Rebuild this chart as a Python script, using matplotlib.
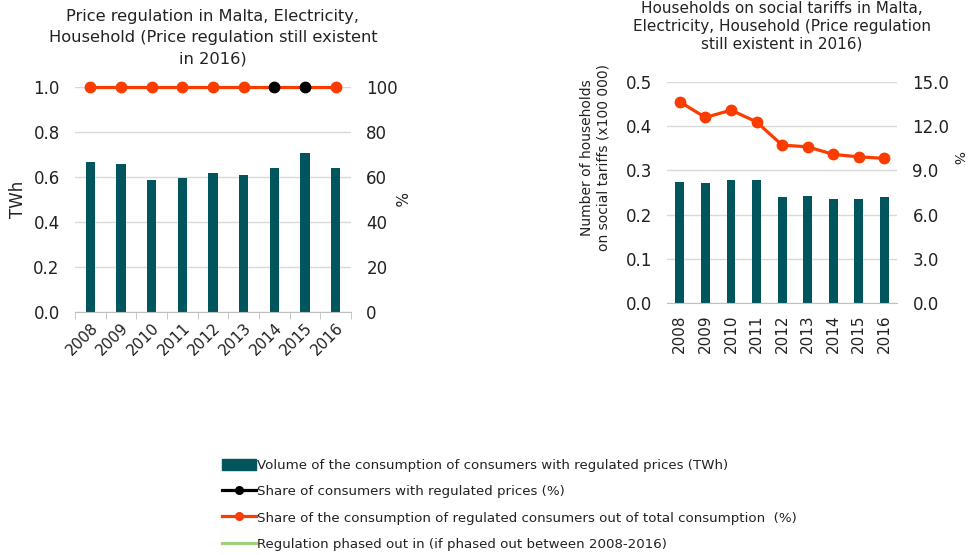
import numpy as np
import matplotlib
matplotlib.use("Agg")
import matplotlib.pyplot as plt
from matplotlib.lines import Line2D
from matplotlib.patches import Patch

# Dados
anos = ["2008", "2009", "2010", "2011", "2012", "2013", "2014", "2015", "2016"]
volume_twh = [0.667, 0.658, 0.587, 0.597, 0.616, 0.609, 0.641, 0.708, 0.641]
share_consumers = [np.nan, np.nan, np.nan, np.nan, np.nan, np.nan, 100, 100, np.nan]
share_consumption = [100, 100, 100, 100, 100, 100, 100, 100, 100]

households = [0.274, 0.272, 0.278, 0.278, 0.239, 0.243, 0.235, 0.235, 0.239]
share_households = [13.66, 12.6, 13.1, 12.3, 10.72, 10.61, 10.09, 9.93, 9.82]

TEAL = "#00565C"
RED = "#FA3C00"
GREEN = "#9BD17F"
GRID = "#D9D9D9"
TXT = "#222222"

plt.rcParams["font.family"] = ["DejaVu Sans"]

fig = plt.figure(figsize=(9.71, 5.55), dpi=100)

x = np.arange(len(anos))

def estilo_eixo(ax, ax2):
    for s in ["top", "left", "right"]:
        ax.spines[s].set_visible(False)
        ax2.spines[s].set_visible(False)
    ax2.spines["bottom"].set_visible(False)
    ax.spines["bottom"].set_color("#BFBFBF")
    ax.yaxis.grid(True, color=GRID, linewidth=1)
    ax.set_axisbelow(True)
    ax.tick_params(axis="y", length=0, labelsize=12, colors=TXT, pad=11)
    ax2.tick_params(axis="y", length=0, labelsize=12, colors=TXT, pad=11)
    ax.set_xlim(-0.5, len(anos) - 0.5)

# Gráfico da esquerda
ax1 = fig.add_axes([0.0772, 0.4378, 0.2843, 0.4054])
ax1.bar(x, volume_twh, width=0.3, color=TEAL, zorder=2)
ax1.set_ylim(0, 1.0)
ax1.set_yticks([0, 0.2, 0.4, 0.6, 0.8, 1.0])
ax1.set_yticklabels(["0.0", "0.2", "0.4", "0.6", "0.8", "1.0"])
ax1.set_ylabel("TWh", fontsize=12, color=TXT)
ax1.yaxis.set_label_coords(-0.175, 0.5)
ax1r = ax1.twinx()
ax1r.set_ylim(0, 100)
ax1r.set_yticks([0, 20, 40, 60, 80, 100])
ax1r.plot(x, share_consumption, color=RED, linewidth=2.3, zorder=3, clip_on=False,
          marker="o", markersize=7.5, markevery=[0, 1, 2, 3, 4, 5, 8])
ax1r.plot(x, share_consumers, color="black", linestyle="none", marker="o",
          markersize=7.5, zorder=4, clip_on=False)
ax1r.set_ylabel("%", fontsize=11, color=TXT, rotation=-90)
ax1r.yaxis.set_label_coords(1.2, 0.5)
estilo_eixo(ax1, ax1r)
ax1.set_xticks(x)
ax1.set_xticks(np.arange(-0.5, len(anos), 1), minor=True)
ax1.set_xticklabels(anos, rotation=45, ha="right", rotation_mode="anchor")
ax1.tick_params(axis="x", which="major", length=0, labelsize=11, colors=TXT, pad=6)
ax1.tick_params(axis="x", which="minor", length=5, color="#BFBFBF")
ax1.set_title("Price regulation in Malta, Electricity,\nHousehold (Price regulation still existent\nin 2016)",
              fontsize=11.7, color=TXT, pad=17, linespacing=1.5)

# Gráfico da direita
ax2 = fig.add_axes([0.687, 0.454, 0.237, 0.398])
ax2.bar(x, households, width=0.35, color=TEAL, zorder=2)
ax2.set_ylim(0, 0.5)
ax2.set_yticks([0, 0.1, 0.2, 0.3, 0.4, 0.5])
ax2.set_yticklabels(["0.0", "0.1", "0.2", "0.3", "0.4", "0.5"])
ax2.set_ylabel("Number of households\non social tariffs (x100 000)", fontsize=10, color=TXT)
ax2.yaxis.set_label_coords(-0.245, 0.66)
ax2r = ax2.twinx()
ax2r.set_ylim(0, 15)
ax2r.set_yticks([0, 3, 6, 9, 12, 15])
ax2r.set_yticklabels(["0.0", "3.0", "6.0", "9.0", "12.0", "15.0"])
ax2r.plot(x, share_households, color=RED, linewidth=2.3, marker="o", markersize=7.5, zorder=3)
ax2r.set_ylabel("%", fontsize=10, color=TXT, rotation=-90)
ax2r.yaxis.set_label_coords(1.29, 0.66)
estilo_eixo(ax2, ax2r)
ax2.set_xticks(x)
ax2.set_xticklabels(anos, rotation=90)
ax2.tick_params(axis="x", length=0, labelsize=11, colors=TXT, pad=8)
ax2.set_title("Households on social tariffs in Malta,\nElectricity, Household (Price regulation\nstill existent in 2016)",
              fontsize=11, color=TXT, pad=24, linespacing=1.25)

# Legenda
handles = [
    Patch(facecolor=TEAL, edgecolor=TEAL),
    Line2D([], [], color="black", linewidth=2.3, marker="o", markersize=5.5),
    Line2D([], [], color=RED, linewidth=2.3, marker="o", markersize=5.5),
    Line2D([], [], color=GREEN, linewidth=2.3),
]
labels = [
    "Volume of the consumption of consumers with regulated prices (TWh)",
    "Share of consumers with regulated prices (%)",
    "Share of the consumption of regulated consumers out of total consumption  (%)",
    "Regulation phased out in (if phased out between 2008-2016)",
]
fig.legend(handles, labels, loc="upper left", bbox_to_anchor=(0.2286, 0.173), frameon=False,
           fontsize=9.6, handlelength=2.55, handleheight=0.9, handletextpad=0.08, labelspacing=0.98,
           borderaxespad=0, borderpad=0, labelcolor=TXT)

fig.savefig("out.png", dpi=100)
